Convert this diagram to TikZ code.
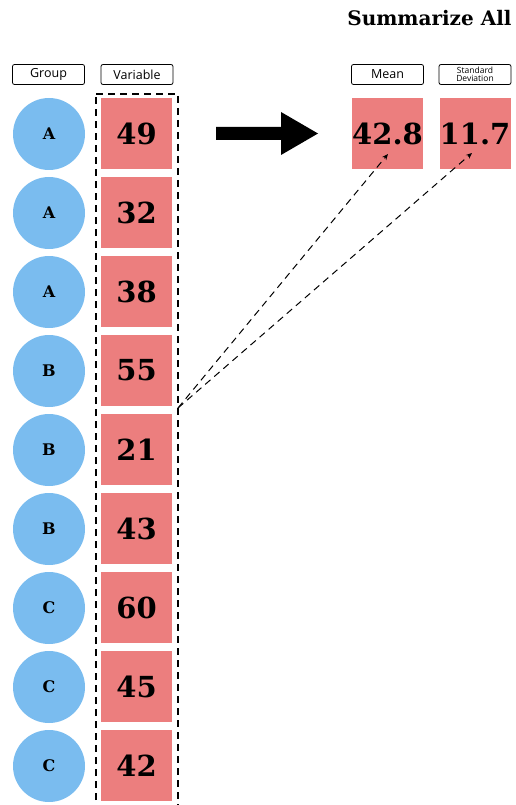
\documentclass[tikz,border=0pt]{standalone}
\usepackage{fontspec}
\setmainfont{DejaVu Serif}
\newfontfamily\labelfont{Open Sans}
\usetikzlibrary{arrows.meta}
\definecolor{circblue}{HTML}{7ABCEF}
\definecolor{sqred}{HTML}{EC7E7E}
\tikzset{
  grp/.style={circle, fill=circblue, minimum size=72pt, inner sep=0pt, font=\bfseries\fontsize{16}{18}\selectfont},
  valbox/.style={rectangle, fill=sqred, minimum size=71pt, inner sep=0pt, font=\bfseries\fontsize{29}{32}\selectfont},
  hdr/.style={rectangle, draw=black, rounded corners=2pt, line width=0.8pt, minimum width=72pt, minimum height=20pt, inner sep=0pt, font=\labelfont\fontsize{12.5}{13}\selectfont},
  hdrsmall/.style={hdr, font=\labelfont\fontsize{8.5}{8.5}\selectfont, align=center},
  link/.style={dashed, dash pattern=on 7pt off 5pt, line width=1pt, -{Stealth[length=6pt,width=5pt]}},
}
\begin{document}
\begin{tikzpicture}[x=1pt,y=-1pt]
\useasboundingbox (0,0) rectangle (516,805);
\node[font=\bfseries\fontsize{20}{22}\selectfont, anchor=east] (title) at (515,18) {Summarize All};
\node[hdr] (hgroup) at (48.5,74.5) {Group};
\node[hdr] (hvar) at (137,74.5) {Variable};
\node[hdr] (hmean) at (387.5,74.5) {Mean};
\node[hdrsmall] (hsd) at (475,74.5) {Standard\\Deviation};
\foreach \g/\v [count=\i from 0] in {A/49,A/32,A/38,B/55,B/21,B/43,C/60,C/45,C/42}{
  \node[grp] (g\i) at (49,{134+79*\i}) {\g};
  \node[valbox] (v\i) at (136.5,{133.5+79*\i}) {\v};
}
\draw[dashed, dash pattern=on 7pt off 5pt, line width=1.1pt] (96,94) -- (178,94) -- (178,812) (96,812) -- (96,94);
\coordinate (src) at (178,408);
\node[valbox] (mean) at (387.5,133.5) {42.8};
\node[valbox] (sd) at (475,133.5) {11.7};
\fill[black] (216,127) -- (281,127) -- (281,112) -- (318,133.5) -- (281,155) -- (281,140) -- (216,140) -- cycle;
\coordinate (mtip) at (388,154);
\coordinate (stip) at (472,153);
\draw[link] (src) -- (mtip);
\draw[link] (src) -- (stip);
\end{tikzpicture}
\end{document}
